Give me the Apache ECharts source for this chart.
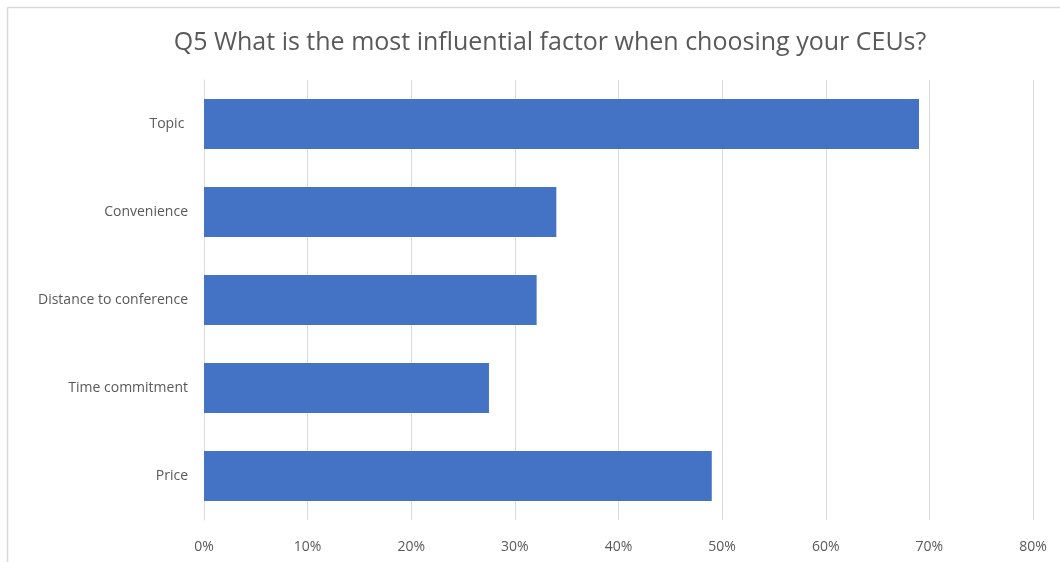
<!DOCTYPE html>
<html>
<head>
<meta charset="utf-8">
<script src="https://cdn.jsdelivr.net/npm/echarts@6/dist/echarts.min.js"></script>
<style>
html,body{margin:0;padding:0;background:#fff;}
#chart{width:1060px;height:562px;}
</style>
</head>
<body>
<div id="chart"></div>
<script>
const titleText = 'Q5 What is the most influential factor when choosing your CEUs?';
const categories = ['Topic ', 'Convenience', 'Distance to conference', 'Time commitment', 'Price'];
const values = [69.0, 34.0, 32.1, 27.5, 49.0];
const xTicks = [0, 10, 20, 30, 40, 50, 60, 70, 80];

const chart = echarts.init(document.getElementById('chart'), null, {renderer: 'canvas'});
chart.setOption({
  animation: false,
  backgroundColor: '#fff',
  textStyle: {fontFamily: 'Open Sans'},
  title: {
    text: titleText,
    left: 545,
    textAlign: 'center',
    top: 25,
    textStyle: {fontFamily: 'Open Sans', fontSize: 25, fontWeight: 'normal', color: '#595959'}
  },
  graphic: [
    {type: 'line', shape: {x1: 7.5, y1: 7.5, x2: 1060, y2: 7.5}, style: {stroke: '#d9d9d9', lineWidth: 1.5}, silent: true},
    {type: 'line', shape: {x1: 7.5, y1: 7.5, x2: 7.5, y2: 562}, style: {stroke: '#d9d9d9', lineWidth: 1.5}, silent: true}
  ],
  grid: {left: 204, right: 27, top: 80, bottom: 42, containLabel: false},
  xAxis: {
    type: 'value',
    min: xTicks[0],
    max: xTicks[xTicks.length - 1],
    interval: 10,
    axisLine: {show: false},
    axisTick: {show: false},
    splitLine: {show: true, lineStyle: {color: '#d9d9d9', width: 1}},
    axisLabel: {formatter: v => v + '%', color: '#595959', fontSize: 14, margin: 20, fontFamily: 'Open Sans'}
  },
  yAxis: {
    type: 'category',
    data: categories,
    inverse: true,
    axisLine: {show: true, lineStyle: {color: '#d9d9d9'}},
    axisTick: {show: false},
    axisLabel: {color: '#595959', fontSize: 14, margin: 16, fontFamily: 'Open Sans'}
  },
  series: [{
    type: 'bar',
    data: values,
    barCategoryGap: '43%',
    itemStyle: {color: '#4472c4'}
  }]
});
</script>
</body>
</html>
